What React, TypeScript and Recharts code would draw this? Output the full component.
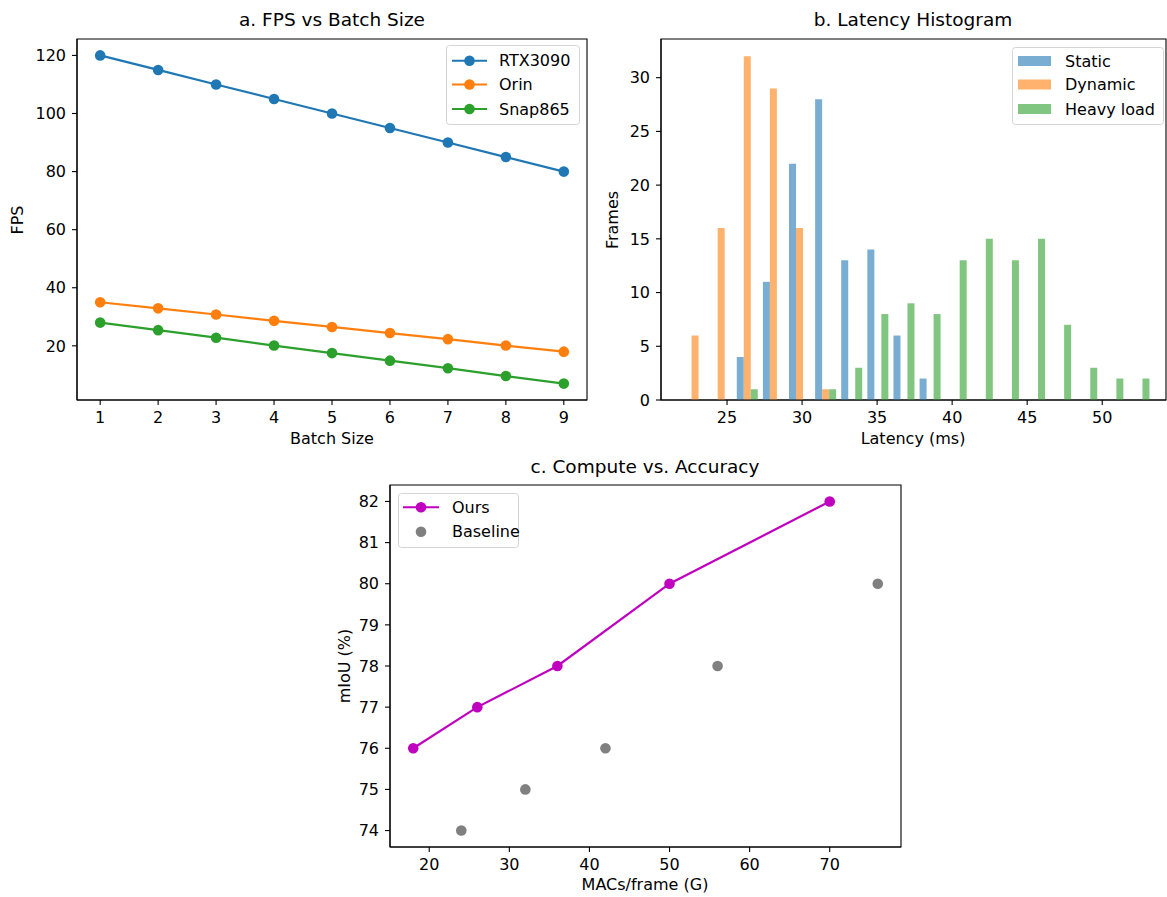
import React from 'react';
import { LineChart, Line, XAxis, YAxis, BarChart, Bar, ReferenceArea } from 'recharts';

// ---- a. FPS vs Batch Size ----
const batchSizes = [1, 2, 3, 4, 5, 6, 7, 8, 9];
const rtx3090Fps = [120, 115, 110, 105, 100, 95, 90, 85, 80];
const orinFps = [35, 32.9, 30.8, 28.6, 26.5, 24.4, 22.3, 20.1, 18];
const snap865Fps = [28, 25.4, 22.8, 20.1, 17.5, 14.9, 12.3, 9.6, 7];
const fpsTicks = [20, 40, 60, 80, 100, 120];

// ---- b. Latency Histogram ----
const latencyBinCenters = [22.84, 24.58, 26.32, 28.06, 29.8, 31.54, 33.28, 35.02, 36.76, 38.5, 40.24, 41.98, 43.72, 45.46, 47.2, 48.94, 50.68, 52.42];
const staticFrames = [0, 0, 4, 11, 22, 28, 13, 14, 6, 2, 0, 0, 0, 0, 0, 0, 0, 0];
const dynamicFrames = [6, 16, 32, 29, 16, 1, 0, 0, 0, 0, 0, 0, 0, 0, 0, 0, 0, 0];
const heavyFrames = [0, 0, 1, 0, 0, 1, 3, 8, 9, 8, 13, 15, 13, 15, 7, 3, 2, 2];
const latencyTicks = [25, 30, 35, 40, 45, 50];
const frameTicks = [0, 5, 10, 15, 20, 25, 30];

// ---- c. Compute vs. Accuracy ----
const oursMacs = [18, 26, 36, 50, 70];
const oursMiou = [76, 77, 78, 80, 82];
const baselineMacs = [24, 32, 42, 56, 76];
const baselineMiou = [74, 75, 76, 78, 80];
const macsTicks = [20, 30, 40, 50, 60, 70];
const miouTicks = [74, 75, 76, 77, 78, 79, 80, 81, 82];

const fpsData = batchSizes.map((b, i) => ({ batch: b, rtx: rtx3090Fps[i], orin: orinFps[i], snap: snap865Fps[i] }));
const histData = latencyBinCenters.map((c, i) => ({ center: c, stat: staticFrames[i], dyn: dynamicFrames[i], heavy: heavyFrames[i] }));
const oursData = oursMacs.map((x, i) => ({ x, y: oursMiou[i] }));
const baselineData = baselineMacs.map((x, i) => ({ x, y: baselineMiou[i] }));

const FONT = '"DejaVu Sans", sans-serif';
const TICK_FS = 16;
const TITLE_FS = 18.5;
const tickStyle = { fill: '#000', fontSize: TICK_FS, fontFamily: FONT };
const axisLine = { stroke: '#000', strokeWidth: 1.1 };
const tickLine = { stroke: '#000', strokeWidth: 1.1 };

const BLUE = '#1f77b4';
const ORANGE = '#ff7f0e';
const GREEN = '#2ca02c';
const H_BLUE = '#79add2';
const H_ORANGE = '#ffb26e';
const H_GREEN = '#80c680';
const MAGENTA = '#bf00bf';
const GRAY = '#808080';

const A_X = [0.6, 9.4];
const A_Y = [1.35, 125.65];
const B_X = [20.6, 54.25];
const B_Y = [0, 33.6];
const C_X = [15.1, 78.9];
const C_Y = [73.6, 82.4];

const Txt = ({ x, y, text, size, rotate }: { x: number; y: number; text: string; size: number; rotate?: boolean }) => (
  <div
    style={{
      position: 'absolute', left: x, top: y, fontFamily: FONT, fontSize: size, lineHeight: 1,
      whiteSpace: 'nowrap', color: '#000',
      transform: `translate(-50%, -50%)${rotate ? ' rotate(-90deg)' : ''}`,
    }}
  >
    {text}
  </div>
);

type LegItem = { label: string; color: string; kind: 'line' | 'patch' | 'dot' };
const LegendBox = ({ left, top, width, height, rows, items, iconX0, iconX1, textX }: {
  left: number; top: number; width: number; height: number; rows: number[]; items: LegItem[];
  iconX0: number; iconX1: number; textX: number;
}) => (
  <svg style={{ position: 'absolute', left, top }} width={width + 2} height={height + 2}>
    <rect x={0.5} y={0.5} width={width} height={height} rx={3} ry={3} fill="#fff" fillOpacity={0.85} stroke="#d4d4d4" strokeWidth={1} />
    {items.map((it, i) => {
      const cy = rows[i];
      const mid = (iconX0 + iconX1) / 2;
      return (
        <g key={it.label}>
          {it.kind === 'line' && (
            <>
              <line x1={iconX0} x2={iconX1} y1={cy} y2={cy} stroke={it.color} strokeWidth={2} />
              <circle cx={mid} cy={cy} r={5.3} fill={it.color} />
            </>
          )}
          {it.kind === 'dot' && <circle cx={mid} cy={cy} r={5.3} fill={it.color} />}
          {it.kind === 'patch' && <rect x={iconX0} y={cy - 5} width={iconX1 - iconX0} height={10} fill={it.color} />}
          <text x={textX} y={cy} dominantBaseline="central" fontFamily={FONT} fontSize={TICK_FS} fill="#000">{it.label}</text>
        </g>
      );
    })}
  </svg>
);

const dotOf = (c: string) => ({ r: 5.3, fill: c, stroke: c, strokeWidth: 0, fillOpacity: 1 });

export default function App() {
  return (
    <div style={{ position: 'absolute', left: 0, top: 0, width: 1167, height: 897, background: '#fff', overflow: 'hidden' }}>
      {/* Chart a */}
      <div style={{ position: 'absolute', left: 0, top: 0 }}>
        <LineChart width={600} height={450} data={fpsData} margin={{ top: 39, right: 13, bottom: 0, left: 0 }}>
          <XAxis dataKey="batch" type="number" domain={A_X} allowDataOverflow ticks={batchSizes} interval={0} height={50}
            tick={tickStyle} tickLine={tickLine} axisLine={axisLine} tickSize={5} tickMargin={6.5} />
          <YAxis type="number" domain={A_Y} allowDataOverflow ticks={fpsTicks} interval={0} width={77}
            tick={tickStyle} tickLine={tickLine} axisLine={axisLine} tickSize={5} tickMargin={6} />
          <ReferenceArea x1={A_X[0]} x2={A_X[1]} y1={A_Y[0]} y2={A_Y[1]} fill="none" stroke="#000" strokeWidth={1.1} />
          <Line dataKey="rtx" stroke={BLUE} strokeWidth={2.2} isAnimationActive={false} dot={dotOf(BLUE)} activeDot={false} />
          <Line dataKey="orin" stroke={ORANGE} strokeWidth={2.2} isAnimationActive={false} dot={dotOf(ORANGE)} activeDot={false} />
          <Line dataKey="snap" stroke={GREEN} strokeWidth={2.2} isAnimationActive={false} dot={dotOf(GREEN)} activeDot={false} />
        </LineChart>
      </div>

      {/* Chart b */}
      <div style={{ position: 'absolute', left: 600, top: 0 }}>
        <BarChart width={567} height={450} data={histData} margin={{ top: 39, right: 1, bottom: 0, left: 0 }} barGap={0} barSize={7}>
          <XAxis dataKey="center" type="number" domain={B_X} allowDataOverflow ticks={latencyTicks} interval={0} height={50}
            tick={tickStyle} tickLine={tickLine} axisLine={axisLine} tickSize={5} tickMargin={6.5} />
          <YAxis type="number" domain={B_Y} allowDataOverflow ticks={frameTicks} interval={0} width={61}
            tick={tickStyle} tickLine={tickLine} axisLine={axisLine} tickSize={5} tickMargin={6} />
          <ReferenceArea x1={B_X[0]} x2={B_X[1]} y1={B_Y[0]} y2={B_Y[1]} fill="none" stroke="#000" strokeWidth={1.1} />
          <Bar dataKey="stat" fill={H_BLUE} isAnimationActive={false} />
          <Bar dataKey="dyn" fill={H_ORANGE} isAnimationActive={false} />
          <Bar dataKey="heavy" fill={H_GREEN} isAnimationActive={false} />
        </BarChart>
      </div>

      {/* Chart c */}
      <div style={{ position: 'absolute', left: 300, top: 450 }}>
        <LineChart width={610} height={447} margin={{ top: 35, right: 9, bottom: 0, left: 0 }}>
          <XAxis dataKey="x" type="number" domain={C_X} allowDataOverflow ticks={macsTicks} interval={0} height={50}
            tick={tickStyle} tickLine={tickLine} axisLine={axisLine} tickSize={5} tickMargin={6.5} />
          <YAxis type="number" domain={C_Y} allowDataOverflow ticks={miouTicks} interval={0} width={90}
            tick={tickStyle} tickLine={tickLine} axisLine={axisLine} tickSize={5} tickMargin={6} />
          <ReferenceArea x1={C_X[0]} x2={C_X[1]} y1={C_Y[0]} y2={C_Y[1]} fill="none" stroke="#000" strokeWidth={1.1} />
          <Line data={oursData} dataKey="y" stroke={MAGENTA} strokeWidth={2.2} isAnimationActive={false} dot={dotOf(MAGENTA)} activeDot={false} />
          <Line data={baselineData} dataKey="y" stroke="none" strokeWidth={0} isAnimationActive={false} dot={dotOf(GRAY)} activeDot={false} />
        </LineChart>
      </div>

      {/* Titles and axis labels */}
      <Txt x={332} y={20} text="a. FPS vs Batch Size" size={TITLE_FS} />
      <Txt x={332} y={439} text="Batch Size" size={TICK_FS} />
      <Txt x={18} y={220} text="FPS" size={TICK_FS} rotate />

      <Txt x={913} y={20} text="b. Latency Histogram" size={TITLE_FS} />
      <Txt x={913} y={439} text="Latency (ms)" size={TICK_FS} />
      <Txt x={613} y={220} text="Frames" size={TICK_FS} rotate />

      <Txt x={645} y={467} text="c. Compute vs. Accuracy" size={TITLE_FS} />
      <Txt x={645} y={885} text="MACs/frame (G)" size={TICK_FS} />
      <Txt x={345} y={666} text="mIoU (%)" size={TICK_FS} rotate />

      {/* Legends */}
      <LegendBox left={446} top={45} width={133} height={79} rows={[15.7, 39.5, 64]} iconX0={6} iconX1={41} textX={53}
        items={[{ label: 'RTX3090', color: BLUE, kind: 'line' }, { label: 'Orin', color: ORANGE, kind: 'line' }, { label: 'Snap865', color: GREEN, kind: 'line' }]} />
      <LegendBox left={1012} top={47} width={151} height={77} rows={[14, 37.5, 62]} iconX0={6} iconX1={39} textX={53}
        items={[{ label: 'Static', color: H_BLUE, kind: 'patch' }, { label: 'Dynamic', color: H_ORANGE, kind: 'patch' }, { label: 'Heavy load', color: H_GREEN, kind: 'patch' }]} />
      <LegendBox left={398} top={493} width={120} height={54} rows={[14.3, 38.7]} iconX0={5} iconX1={41} textX={54}
        items={[{ label: 'Ours', color: MAGENTA, kind: 'line' }, { label: 'Baseline', color: GRAY, kind: 'dot' }]} />
    </div>
  );
}
